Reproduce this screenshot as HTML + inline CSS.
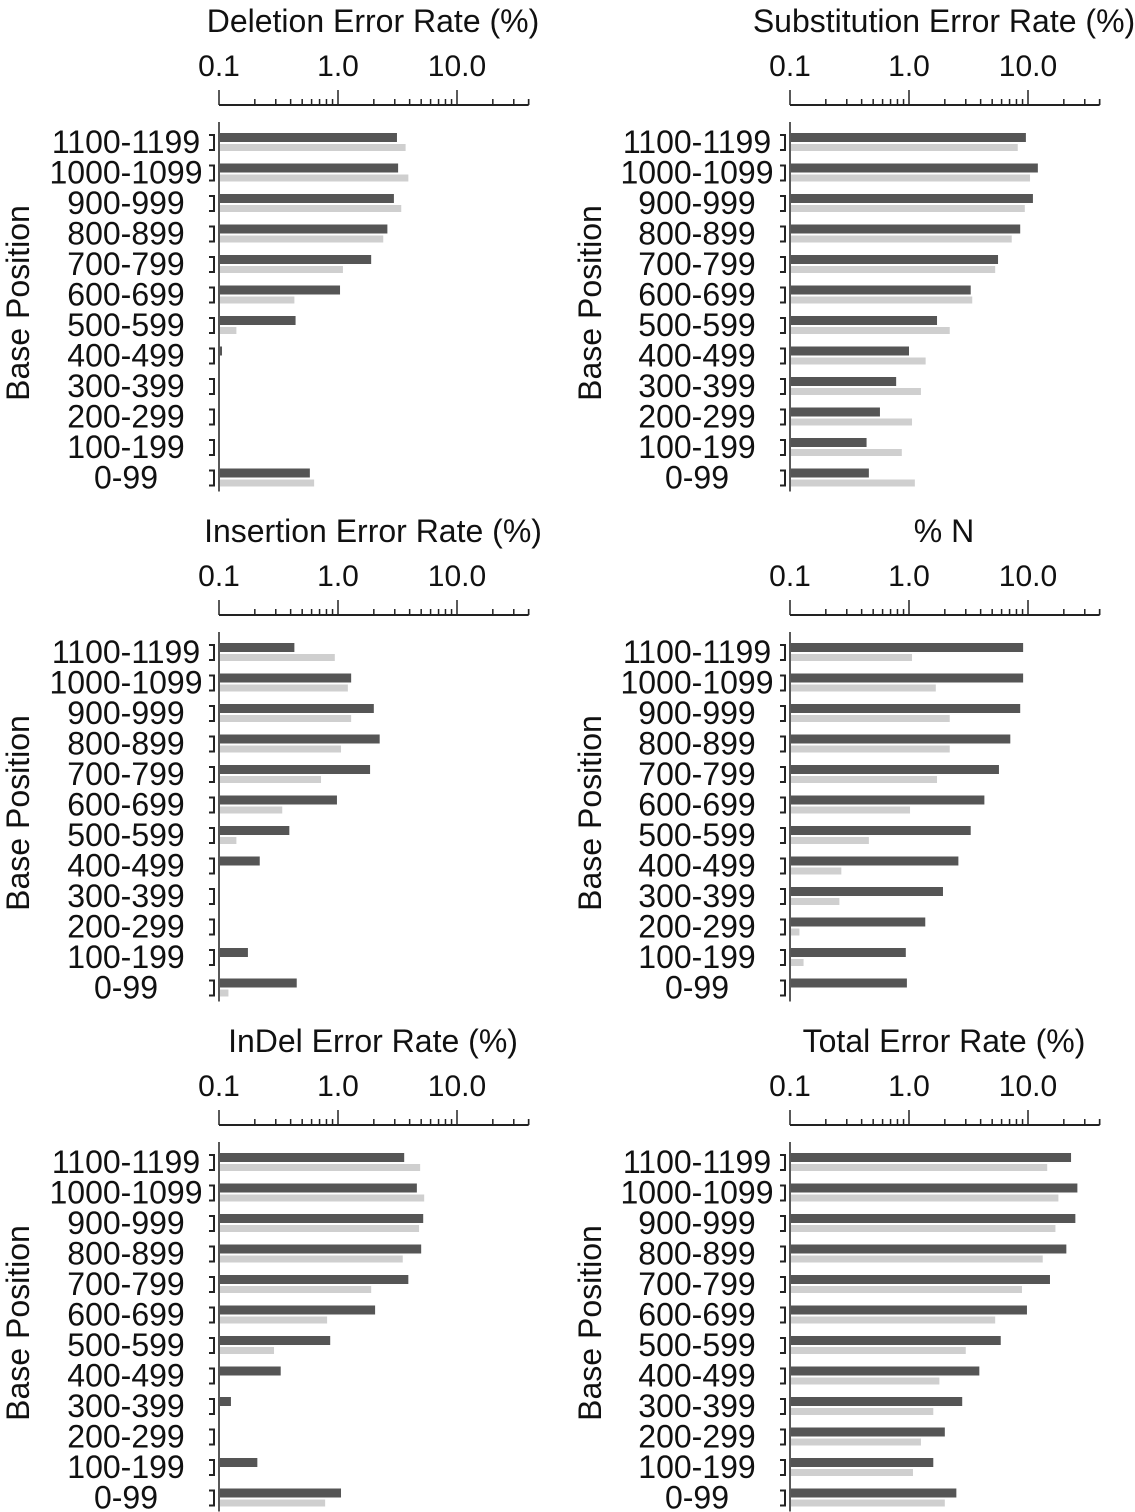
<!DOCTYPE html>
<html><head><meta charset="utf-8"><style>
html,body{margin:0;padding:0;background:#fff;}
svg{display:block;font-family:"Liberation Sans",Arial,sans-serif;}
</style></head><body>
<svg id="c" width="1135" height="1512"></svg>
<script>
const categories=["1100-1199","1000-1099","900-999","800-899","700-799","600-699","500-599","400-499","300-399","200-299","100-199","0-99"];
const titles=["Deletion Error Rate (%)","Substitution Error Rate (%)","Insertion Error Rate (%)","% N","InDel Error Rate (%)","Total Error Rate (%)"];
const tickLabels=["0.1","1.0","10.0"];
const delDark=[3.13,3.2,2.95,2.6,1.9,1.04,0.44,0.106,0,0,0,0.58];
const delLight=[3.7,3.9,3.4,2.4,1.1,0.43,0.14,0,0,0,0,0.63];
const subDark=[9.6,12.1,11.0,8.6,5.6,3.3,1.72,1.0,0.78,0.57,0.44,0.46];
const subLight=[8.2,10.4,9.4,7.3,5.3,3.4,2.2,1.38,1.26,1.06,0.87,1.12];
const insDark=[0.43,1.29,2.0,2.24,1.86,0.98,0.39,0.22,0,0,0.175,0.45];
const insLight=[0.94,1.21,1.29,1.06,0.72,0.34,0.14,0,0,0,0,0.12];
const nDark=[9.1,9.1,8.6,7.1,5.7,4.3,3.3,2.6,1.93,1.37,0.94,0.96];
const nLight=[1.06,1.68,2.2,2.2,1.72,1.02,0.46,0.27,0.26,0.12,0.13,0];
const indDark=[3.6,4.6,5.2,5.0,3.9,2.05,0.86,0.33,0.126,0,0.21,1.06];
const indLight=[4.9,5.3,4.8,3.5,1.9,0.81,0.29,0,0,0,0,0.78];
const totDark=[23,26,25,21,15.3,9.8,5.9,3.9,2.8,2.0,1.6,2.5];
const totLight=[14.5,18,17,13.3,8.9,5.3,3.0,1.8,1.6,1.26,1.08,2.0];
const darkSeries=[delDark,subDark,insDark,nDark,indDark,totDark];
const lightSeries=[delLight,subLight,insLight,nLight,indLight,totLight];

const svg=document.getElementById('c');
const NS='http://www.w3.org/2000/svg';
function mk(t,a,p){const e=document.createElementNS(NS,t);for(const k in a)e.setAttribute(k,a[k]);(p||svg).appendChild(e);return e;}
const DEC=119;
for(let i=0;i<6;i++){
  const col=i%2,row=Math.floor(i/2);
  const x0=col?790:219;
  const top=row*510;
  const axisY=top+105;
  const firstRow=top+142;
  const g=mk('g',{});
  
  
  const xs=v=>x0+(Math.log10(v)+1)*DEC;
  const t=mk('text',{x:x0+154,y:top+32,'font-size':32,'text-anchor':'middle',fill:'#111'},g);
  t.textContent=titles[i];
  
  
  tickLabels.forEach((l,k)=>{
    const tx=mk('text',{x:x0+k*DEC,y:top+76,'font-size':30,'text-anchor':'middle',fill:'#111'},g);
    tx.textContent=l;
    
    
  });
  const ax=mk('line',{x1:x0,x2:xs(40),y1:axisY,y2:axisY,stroke:'#222','stroke-width':2},g);
  
  
  for(let d=-1;d<=1;d++){for(let m=1;m<=9;m++){
    const v=m*Math.pow(10,d); if(v>40.01)continue;
    const h=(m===1)?15:6;
    mk('line',{x1:xs(v),x2:xs(v),y1:axisY-h,y2:axisY,stroke:'#222','stroke-width':1.5},g);
  }}
  mk('line',{x1:xs(40),x2:xs(40),y1:axisY-6,y2:axisY,stroke:'#222','stroke-width':1.5},g);
  const va=mk('line',{x1:x0,x2:x0,y1:top+122,y2:firstRow+11*30.5+14,stroke:'#222','stroke-width':1.5},g);
  
  
  const yt=mk('text',{x:0,y:0,'font-size':32,'text-anchor':'middle',fill:'#111',transform:`translate(${col?601:29},${top+303}) rotate(-90)`},g);
  yt.textContent='Base Position';
  
  
  categories.forEach((c,r)=>{
    const cy=firstRow+r*30.5;
    const lb=mk('text',{x:x0-93,y:cy+11,'font-size':32,'text-anchor':'middle',fill:'#111'},g);
    lb.textContent=c;
    
    
    mk('path',{d:`M${x0-10} ${cy-7} h5 v15 h-5`,fill:'none',stroke:'#222','stroke-width':2},g);
    const dv=darkSeries[i][r], lv=lightSeries[i][r];
    if(dv>0.1){
      const b=mk('rect',{x:x0+1,y:cy-9,width:xs(dv)-x0-1,height:9,fill:'#555'},g);
      
      
    }
    if(lv>0.1){
      const b=mk('rect',{x:x0+1,y:cy+2,width:xs(lv)-x0-1,height:7,fill:'#cfcfcf'},g);
      
      
    }
  });
}
</script>
</body></html>
